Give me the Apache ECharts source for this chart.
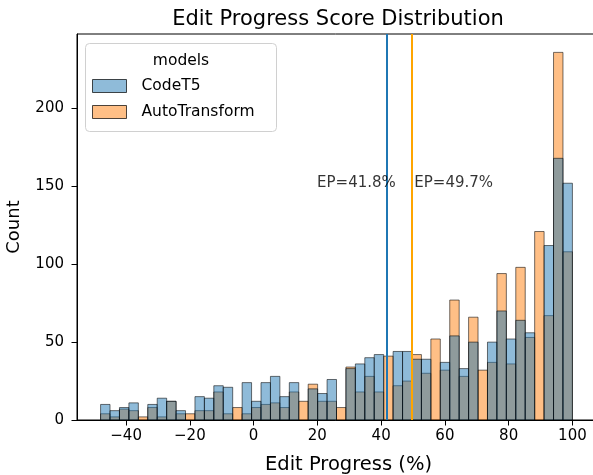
<!DOCTYPE html>
<html>
<head>
<meta charset="utf-8">
<script src="https://cdn.jsdelivr.net/npm/echarts@6/dist/echarts.min.js"></script>
<style>
  html, body, #main { width: 593px; height: 475px; margin: 0; background: #fff; }
</style>
</head>
<body>
<div id="main"></div>
<script>
// histogram bins: 50 bins from -48 to 100
var binMin = -48;
var binWidth = 2.96;
var codeT5 = [10, 6, 8, 11, 0, 10, 14, 12, 6, 0,
              15, 14, 22, 21, 0, 24, 12, 24, 28, 15,
              24, 0, 20, 17, 26, 0, 33, 36, 40, 42,
              0, 44, 44, 39, 39, 0, 37, 54, 33, 50,
              0, 50, 70, 52, 64, 56, 0, 112, 168, 152];
var autoTransform = [4, 2, 7, 6, 2, 8, 2, 12, 4, 4,
                     6, 6, 18, 4, 8, 4, 8, 10, 11, 8,
                     18, 12, 23, 12, 12, 8, 34, 18, 28, 18,
                     41, 22, 25, 42, 30, 52, 32, 77, 28, 66,
                     32, 37, 94, 36, 98, 53, 121, 67, 236, 108];
var epCodeT5 = 41.8;
var epAuto = 49.7;
var xTicks = [-40, -20, 0, 20, 40, 60, 80, 100];
var yTicks = [0, 50, 100, 150, 200];

var FONT = 'DejaVu Sans';

function toBins(counts) {
    var out = [];
    for (var i = 0; i < counts.length; i++) {
        var a = binMin + i * binWidth;
        out.push([a, a + binWidth, counts[i]]);
    }
    return out;
}

function histRender(fill) {
    return function (params, api) {
        var c = api.value(2);
        if (!c) return null;
        var p0 = api.coord([api.value(0), c]);
        var p1 = api.coord([api.value(1), 0]);
        return {
            type: 'rect',
            shape: { x: p0[0], y: p0[1], width: p1[0] - p0[0], height: p1[1] - p0[1] },
            style: { fill: fill, stroke: 'rgba(0,0,0,0.55)', lineWidth: 1 }
        };
    };
}

var blueFill = 'rgba(31,119,180,0.5)';
var orangeFill = 'rgba(255,127,14,0.5)';

var chart = echarts.init(document.getElementById('main'));
chart.setOption({
    animation: false,
    title: {
        text: 'Edit Progress Score Distribution',
        left: 333,
        textAlign: 'center',
        top: 4,
        textStyle: { fontFamily: FONT, fontSize: 21, fontWeight: 'normal', color: '#000' }
    },
    grid: {
        left: 77, right: -3, top: 34, bottom: 55,
        outerBoundsMode: 'none',
        containLabel: false,
        show: true, borderColor: '#000', borderWidth: 1
    },
    legend: {
        orient: 'vertical',
        left: 92,
        top: 77,
        padding: 0,
        itemWidth: 34,
        itemHeight: 13,
        itemGap: 8,
        selectedMode: false,
        textStyle: { fontFamily: FONT, fontSize: 15.5, color: '#000', lineHeight: 18, padding: [0, 0, 0, 10] },
        data: [
            { name: 'CodeT5', icon: 'rect', itemStyle: { color: blueFill, borderColor: 'rgba(0,0,0,0.7)', borderWidth: 1 } },
            { name: 'AutoTransform', icon: 'rect', itemStyle: { color: orangeFill, borderColor: 'rgba(0,0,0,0.7)', borderWidth: 1 } }
        ]
    },
    graphic: [
        {
            type: 'rect', z: 1,
            shape: { x: 85.5, y: 43.5, width: 191, height: 88, r: 4 },
            style: { fill: 'rgba(255,255,255,0.8)', stroke: '#d0d0d0', lineWidth: 1 }
        },
        {
            type: 'text', z: 2,
            style: { text: 'models', x: 181, y: 61, align: 'center', verticalAlign: 'middle',
                     font: '15.5px "DejaVu Sans"', fill: '#000' }
        }
    ],
    xAxis: {
        type: 'value',
        min: -55.4,
        max: 107.4,
        name: 'Edit Progress (%)',
        nameLocation: 'middle',
        nameGap: 35,
        nameTextStyle: { fontFamily: FONT, fontSize: 19.5, color: '#000', padding: [0, 0, 0, 24] },
        splitLine: { show: false },
        axisLine: { show: true, onZero: false, lineStyle: { color: '#000', width: 1 } },
        axisTick: { show: true, length: 5.5, customValues: xTicks, lineStyle: { color: '#000' } },
        axisLabel: {
            customValues: xTicks, margin: 9,
            fontFamily: FONT, fontSize: 15, color: '#000',
            formatter: function (v) { return v < 0 ? '\u2212' + Math.abs(v) : String(v); }
        }
    },
    yAxis: {
        type: 'value',
        min: 0,
        max: 247.8,
        name: 'Count',
        nameLocation: 'middle',
        nameGap: 54,
        nameTextStyle: { fontFamily: FONT, fontSize: 18, color: '#000' },
        splitLine: { show: false },
        axisLine: { show: true, onZero: false, lineStyle: { color: '#000', width: 1 } },
        axisTick: { show: true, length: 5.5, customValues: yTicks, lineStyle: { color: '#000' } },
        axisLabel: { customValues: yTicks, margin: 13, fontFamily: FONT, fontSize: 15, color: '#000' }
    },
    series: [
        {
            name: 'AutoTransform',
            type: 'custom',
            renderItem: histRender(orangeFill),
            itemStyle: { color: orangeFill },
            data: toBins(autoTransform),
            z: 2
        },
        {
            name: 'CodeT5',
            type: 'custom',
            renderItem: histRender(blueFill),
            itemStyle: { color: blueFill },
            data: toBins(codeT5),
            z: 3,
            markLine: {
                silent: true,
                symbol: 'none',
                label: { show: false },
                data: [
                    { xAxis: epCodeT5, lineStyle: { color: '#1f77b4', width: 2, type: 'solid' } },
                    { xAxis: epAuto, lineStyle: { color: '#ffa500', width: 2, type: 'solid' } }
                ]
            }
        },
        {
            type: 'scatter',
            symbolSize: 0,
            z: 5,
            data: [[19.9, 152, 'EP=' + epCodeT5 + '%'], [50.4, 152, 'EP=' + epAuto + '%']],
            label: {
                show: true,
                position: [0, 0],
                align: 'left',
                verticalAlign: 'middle',
                fontFamily: FONT, fontSize: 15, color: '#000',
                formatter: function (p) { return p.value[2]; }
            }
        }
    ]
});
</script>
</body>
</html>
